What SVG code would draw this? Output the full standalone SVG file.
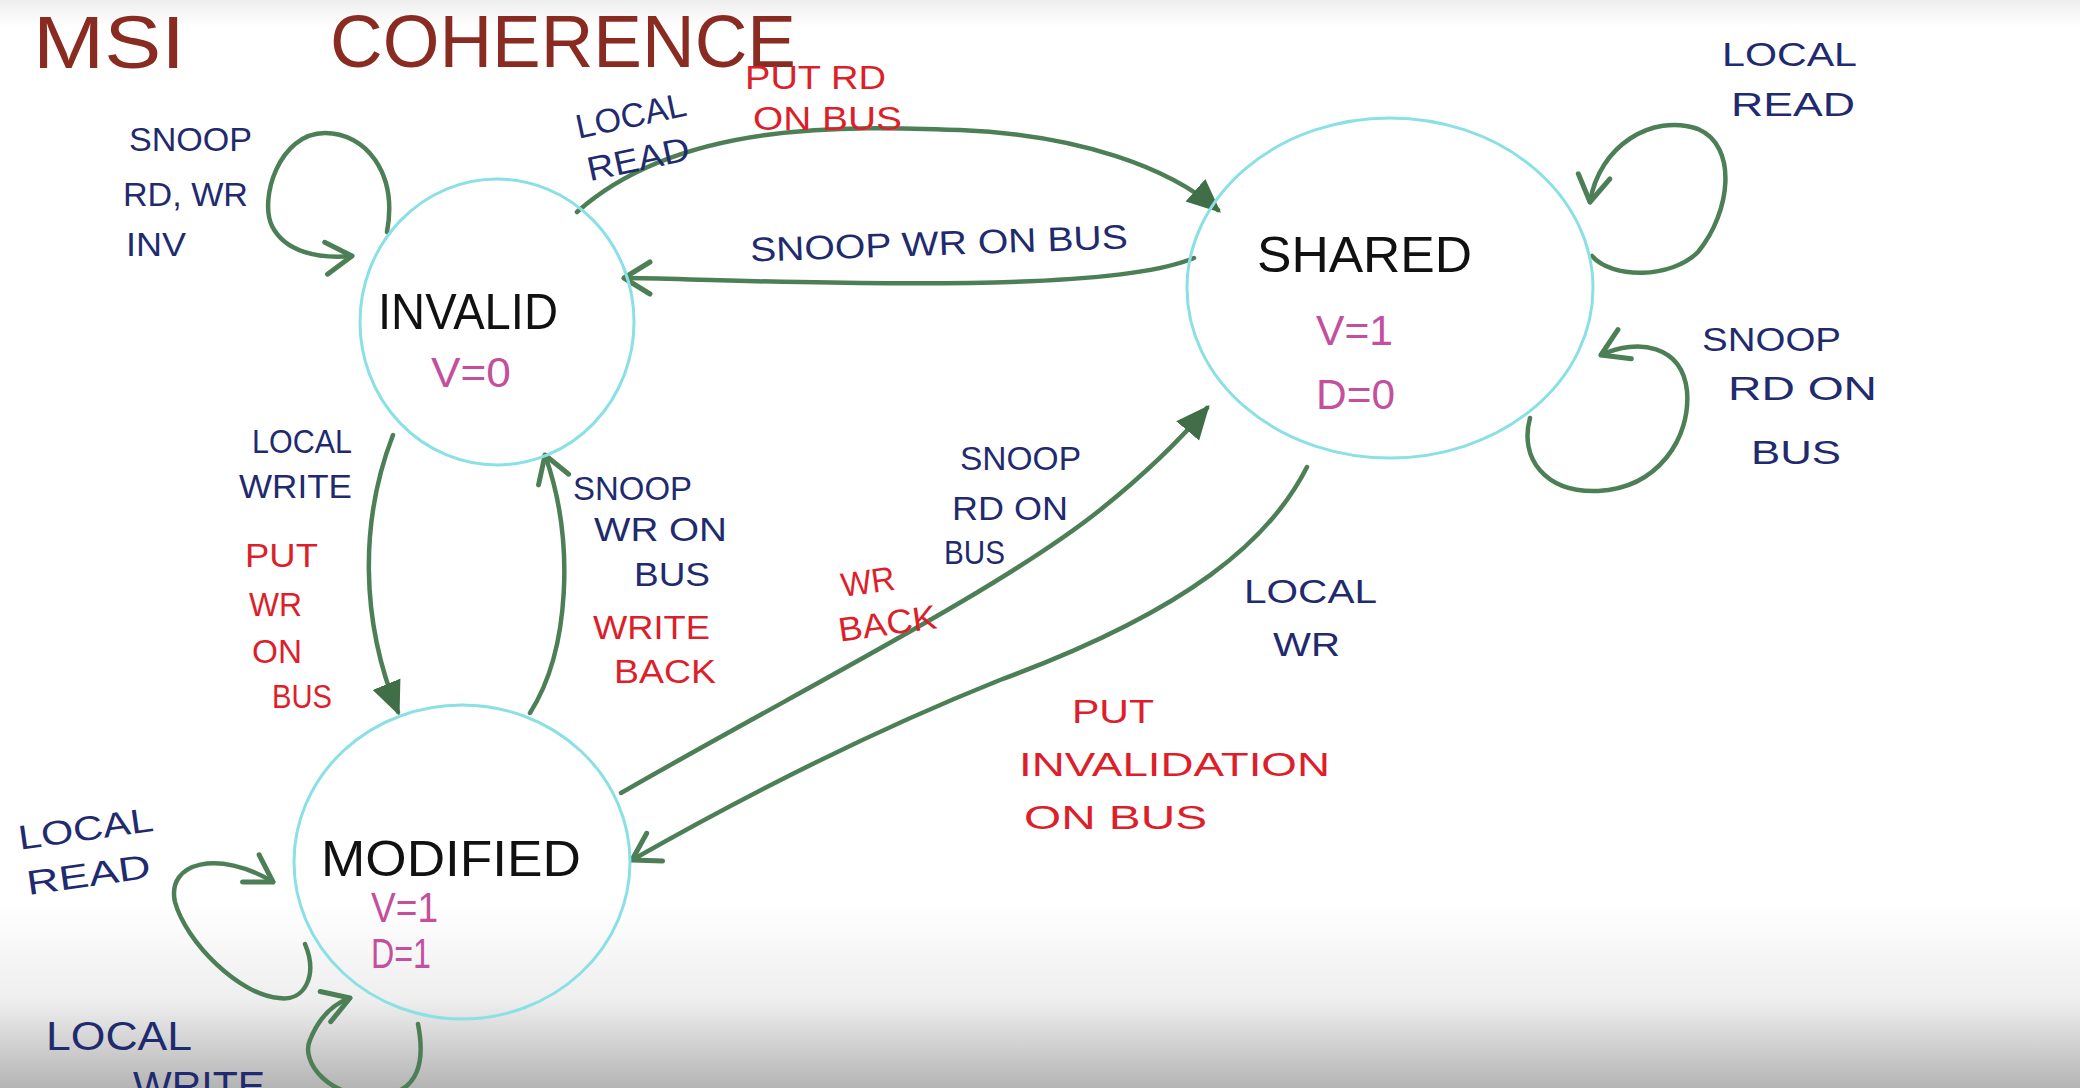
<svg xmlns="http://www.w3.org/2000/svg" width="2080" height="1088" viewBox="0 0 2080 1088">
<defs>
<linearGradient id="bg" x1="0" y1="0" x2="0" y2="1088" gradientUnits="userSpaceOnUse">
<stop offset="0" stop-color="#eeeeee"/>
<stop offset="0.025" stop-color="#ffffff"/>
<stop offset="0.83" stop-color="#ffffff"/>
<stop offset="0.92" stop-color="#eeeeee"/>
<stop offset="1" stop-color="#b4b4b4"/>
</linearGradient>
<marker id="fill" markerUnits="userSpaceOnUse" markerWidth="40" markerHeight="40" refX="30" refY="15" orient="auto" viewBox="0 0 40 30">
<path d="M0,0 L34,15 L0,30 Z" fill="#3f6e47"/>
</marker>
<marker id="open" markerUnits="userSpaceOnUse" markerWidth="40" markerHeight="40" refX="30" refY="20" orient="auto" viewBox="0 0 40 40">
<path d="M4,4 L30,20 L4,36" fill="none" stroke="#4d7f56" stroke-width="5" stroke-linecap="round" stroke-linejoin="round"/>
</marker>
<style>
.st{fill:none;stroke:#8be0e6;stroke-width:3}
.c{fill:none;stroke:#4d7f56;stroke-width:4.5;stroke-linecap:round}
.t{font-family:"Liberation Sans",Arial,sans-serif}
.nv{fill:#1f2b6e;font-size:34px}
.rd{fill:#dc1f2b;font-size:34px}
.pk{fill:#c34f9d;font-size:42px}
.bk{fill:#111111;font-size:50px}
.ti{fill:#8a2b22;font-size:74px}
</style>
</defs>
<rect x="0" y="0" width="2080" height="1088" fill="url(#bg)"/>

<g id="title" class="t ti">
<text x="33" y="68" textLength="152" lengthAdjust="spacingAndGlyphs">MSI</text>
<text x="330" y="67" textLength="466" lengthAdjust="spacingAndGlyphs">COHERENCE</text>
</g>

<g id="connectors">
<path class="c" marker-end="url(#open)" d="M387,232 C398,172 365,133 325,133 C279,133 259,199 272,226 C285,252 318,259 352,256"/>
<path class="c" marker-end="url(#fill)" d="M577,212 C680,120 850,126 960,130 C1080,135 1170,168 1218,210"/>
<path class="c" marker-end="url(#open)" d="M1194,258 C1130,285 950,285 800,282 C720,281 660,278 624,278"/>
<path class="c" marker-end="url(#open)" d="M1592,256 C1612,279 1671,279 1698,252 C1731,212 1738,146 1698,129 C1652,113 1599,146 1590,202"/>
<path class="c" marker-end="url(#open)" d="M1530,418 C1519,458 1545,493 1598,491 C1658,488 1691,438 1687,391 C1682,345 1638,338 1601,355"/>
<path class="c" marker-end="url(#fill)" d="M393,435 C360,520 360,620 398,712"/>
<path class="c" marker-end="url(#open)" d="M530,713 C570,650 575,540 545,455"/>
<path class="c" marker-end="url(#fill)" d="M621,793 C800,690 1000,590 1100,510 C1150,470 1180,440 1207,408"/>
<path class="c" marker-end="url(#open)" d="M1307,467 C1270,540 1190,610 1000,680 C850,740 720,810 632,860"/>
<path class="c" marker-end="url(#open)" d="M305,944 C318,975 305,1002 279,998 C239,995 186,942 175,902 C166,862 219,849 273,882"/>
<path class="c" marker-end="url(#open)" d="M418,1024 C425,1060 420,1092 380,1096 C330,1100 300,1062 310,1040 C318,1020 330,1005 350,998"/>
</g>

<g id="invalid">
<ellipse class="st" cx="497" cy="322" rx="137" ry="143"/>
<text class="t bk" x="378" y="329" textLength="180" lengthAdjust="spacingAndGlyphs">INVALID</text>
<text class="t pk" x="431" y="387" textLength="80" lengthAdjust="spacingAndGlyphs">V=0</text>
</g>

<g id="shared">
<ellipse class="st" cx="1390" cy="288" rx="203" ry="170"/>
<text class="t bk" x="1257" y="272" textLength="215" lengthAdjust="spacingAndGlyphs">SHARED</text>
<text class="t pk" x="1316" y="345" textLength="77" lengthAdjust="spacingAndGlyphs">V=1</text>
<text class="t pk" x="1316" y="409" textLength="79" lengthAdjust="spacingAndGlyphs">D=0</text>
</g>

<g id="modified">
<ellipse class="st" cx="462" cy="862" rx="168" ry="157"/>
<text class="t bk" x="321" y="876" font-size="52" textLength="260" lengthAdjust="spacingAndGlyphs">MODIFIED</text>
<text class="t pk" x="371" y="922" font-size="32" textLength="67" lengthAdjust="spacingAndGlyphs">V=1</text>
<text class="t pk" x="371" y="968" font-size="38" textLength="60" lengthAdjust="spacingAndGlyphs">D=1</text>
</g>

<g id="labels" class="t">
<g class="nv">
<text x="129" y="151" textLength="123" lengthAdjust="spacingAndGlyphs">SNOOP</text>
<text x="123" y="206" textLength="125" lengthAdjust="spacingAndGlyphs">RD, WR</text>
<text x="126" y="256" textLength="60" lengthAdjust="spacingAndGlyphs">INV</text>

<g transform="rotate(-12 630 140)">
<text x="580" y="128" textLength="112" lengthAdjust="spacingAndGlyphs">LOCAL</text>
<text x="582" y="172" textLength="104" lengthAdjust="spacingAndGlyphs">READ</text>
</g>

<text x="750" y="255" textLength="378" lengthAdjust="spacingAndGlyphs" transform="rotate(-2 940 245)">SNOOP WR ON BUS</text>

<text x="1722" y="66" textLength="135" lengthAdjust="spacingAndGlyphs">LOCAL</text>
<text x="1731" y="116" textLength="124" lengthAdjust="spacingAndGlyphs">READ</text>

<text x="1702" y="351" textLength="139" lengthAdjust="spacingAndGlyphs">SNOOP</text>
<text x="1728" y="400" textLength="149" lengthAdjust="spacingAndGlyphs">RD ON</text>
<text x="1751" y="464" textLength="90" lengthAdjust="spacingAndGlyphs">BUS</text>

<text x="252" y="453" textLength="100" lengthAdjust="spacingAndGlyphs">LOCAL</text>
<text x="239" y="498" textLength="113" lengthAdjust="spacingAndGlyphs">WRITE</text>

<text x="573" y="500" textLength="119" lengthAdjust="spacingAndGlyphs">SNOOP</text>
<text x="594" y="541" textLength="133" lengthAdjust="spacingAndGlyphs">WR ON</text>
<text x="634" y="586" textLength="76" lengthAdjust="spacingAndGlyphs">BUS</text>

<text x="960" y="470" textLength="121" lengthAdjust="spacingAndGlyphs">SNOOP</text>
<text x="952" y="520" textLength="116" lengthAdjust="spacingAndGlyphs">RD ON</text>
<text x="944" y="564" textLength="61" lengthAdjust="spacingAndGlyphs">BUS</text>

<text x="1244" y="603" textLength="133" lengthAdjust="spacingAndGlyphs">LOCAL</text>
<text x="1273" y="656" textLength="67" lengthAdjust="spacingAndGlyphs">WR</text>

<g transform="rotate(-8 90 860)">
<text x="22" y="840" textLength="136" lengthAdjust="spacingAndGlyphs">LOCAL</text>
<text x="24" y="886" textLength="125" lengthAdjust="spacingAndGlyphs">READ</text>
</g>

<text x="46" y="1050" textLength="146" lengthAdjust="spacingAndGlyphs" font-size="40">LOCAL</text>
<text x="133" y="1100" textLength="132" lengthAdjust="spacingAndGlyphs" font-size="40">WRITE</text>
</g>

<g class="rd">
<text x="745" y="89" textLength="141" lengthAdjust="spacingAndGlyphs">PUT RD</text>
<text x="753" y="130" textLength="149" lengthAdjust="spacingAndGlyphs">ON BUS</text>

<text x="245" y="567" textLength="73" lengthAdjust="spacingAndGlyphs">PUT</text>
<text x="249" y="616" textLength="53" lengthAdjust="spacingAndGlyphs">WR</text>
<text x="252" y="663" textLength="50" lengthAdjust="spacingAndGlyphs">ON</text>
<text x="272" y="708" textLength="60" lengthAdjust="spacingAndGlyphs">BUS</text>

<text x="593" y="639" textLength="117" lengthAdjust="spacingAndGlyphs">WRITE</text>
<text x="614" y="683" textLength="102" lengthAdjust="spacingAndGlyphs">BACK</text>

<g transform="rotate(-8 880 610)">
<text x="845" y="592" textLength="54" lengthAdjust="spacingAndGlyphs">WR</text>
<text x="836" y="636" textLength="99" lengthAdjust="spacingAndGlyphs">BACK</text>
</g>

<text x="1072" y="723" textLength="82" lengthAdjust="spacingAndGlyphs">PUT</text>
<text x="1019" y="776" textLength="311" lengthAdjust="spacingAndGlyphs">INVALIDATION</text>
<text x="1024" y="829" textLength="183" lengthAdjust="spacingAndGlyphs">ON BUS</text>
</g>
</g>
</svg>
